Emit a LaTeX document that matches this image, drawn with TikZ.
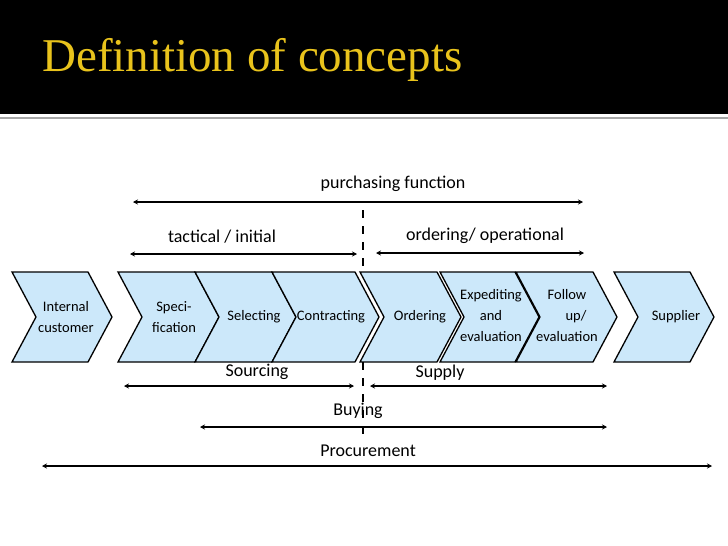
\documentclass[tikz,border=0pt]{standalone}
\usepackage{fontspec}
\setmainfont{Carlito}
\newfontfamily\titlefont{Liberation Serif}
\usetikzlibrary{arrows.meta}
\definecolor{chev}{HTML}{CCE8FA}
\definecolor{gold}{HTML}{E9C31C}
\begin{document}
\begin{tikzpicture}[x=1pt,y=-1pt,
  chevbox/.style={draw=black,line width=1.3pt,fill=chev,line join=miter},
  lbl/.style={font=\fontsize{14.5}{16}\selectfont,align=center,inner sep=1pt},
  big/.style={font=\fontsize{18}{20}\selectfont,inner sep=0pt},
  span/.style={line width=1.2pt,{Stealth[length=5pt,width=5pt]}-{Stealth[length=5pt,width=5pt]}}]
\useasboundingbox (0,0) rectangle (728,546);
\fill[black] (0,0) rectangle (728,114);
\draw[gray!70,line width=2pt] (0,118) -- (728,118);
\node[anchor=west,text=gold,font=\titlefont\fontsize{47}{50}\selectfont,inner sep=0pt] (title) at (42,60) {Definition of concepts};
% chevrons
\newcommand{\chevron}[2]{\draw[chevbox] (#1,272) -- (#2,272) -- (#2+24,317) -- (#2,362) -- (#1,362) -- (#1+24,317) -- cycle;}
\chevron{12}{88}
\chevron{118}{195}
\chevron{195}{272}
\chevron{272}{355}
\chevron{360}{437}
\chevron{440}{515}
\chevron{516}{593}
\chevron{614}{690}
\node[lbl,anchor=west] (ic) at (37,317) {Internal\\[5pt]customer};
\node[lbl] (sp) at (174,317) {Speci-\\[5pt]fication};
\node[lbl] (se) at (254,317) {Selecting};
\node[lbl] (co) at (331,317) {Contracting};
\node[lbl] (or) at (420,317) {Ordering};
\node[lbl] (ex) at (491,316) {Expediting\\[5pt]and\\[5pt]evaluation};
\node[lbl] (fu) at (567,316) {Follow\\[5pt]\hspace*{18pt}up/\\[5pt]evaluation};
\node[lbl] (su) at (676,317) {Supplier};
% dashed divider
\coordinate (d1) at (363,210); \coordinate (d2) at (363,272);
\coordinate (d3) at (363,362); \coordinate (d4) at (363,440);
\draw[line width=1.5pt,dash pattern=on 8pt off 8pt] (d1) -- (d2);
\draw[line width=1.5pt,dash pattern=on 8pt off 8pt] (d3) -- (d4);
% spans
\coordinate (p1) at (133,202); \coordinate (p2) at (583,202);
\draw[span] (p1) -- (p2);
\node[big] (pf) at (393,184) {purchasing function};
\coordinate (t1) at (130,254); \coordinate (t2) at (357,254);
\draw[span] (t1) -- (t2);
\node[big] (ti) at (222,237) {tactical / initial};
\coordinate (o1) at (376,253); \coordinate (o2) at (584,253);
\draw[span] (o1) -- (o2);
\node[big] (oo) at (485,236) {ordering/ operational};
\coordinate (s1) at (124,386); \coordinate (s2) at (354,386);
\draw[span] (s1) -- (s2);
\node[big] (so) at (257,372) {Sourcing};
\coordinate (u1) at (370,386); \coordinate (u2) at (607,386);
\draw[span] (u1) -- (u2);
\node[big] (sy) at (440,373) {Supply};
\coordinate (b1) at (200,427); \coordinate (b2) at (607,427);
\draw[span] (b1) -- (b2);
\node[big] (bu) at (358,411) {Buying};
\coordinate (r1) at (42,466); \coordinate (r2) at (712,466);
\draw[span] (r1) -- (r2);
\node[big] (pr) at (368,451) {Procurement};
\end{tikzpicture}
\end{document}
